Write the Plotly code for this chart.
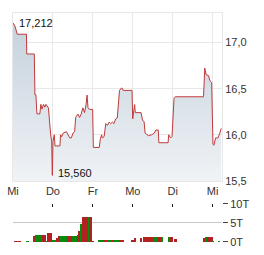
import plotly.graph_objects as go

# price series (x in days since first Wednesday)
price_x = [0.000, 0.049, 0.106, 0.337, 0.345, 0.534, 0.549, 0.574, 0.599, 0.672,
           0.697, 0.727, 0.764, 0.800, 0.825, 0.887, 0.943, 0.968, 0.985, 1.002,
           1.034, 1.052, 1.175, 1.190, 1.219, 1.256, 1.337, 1.379, 1.421, 1.461,
           1.502, 1.544, 1.569, 1.626, 1.667, 1.707, 1.749, 1.791, 1.830, 1.855,
           1.879, 1.914, 1.995, 2.012, 2.160, 2.185, 2.217, 2.241, 2.283, 2.323,
           2.365, 2.406, 2.446, 2.488, 2.530, 2.569, 2.611, 2.667, 2.709, 2.734,
           2.759, 2.980, 2.998, 3.047, 3.062, 3.209, 3.244, 3.283, 3.308, 3.392,
           3.473, 3.539, 3.579, 3.638, 3.653, 3.884, 3.899, 3.948, 3.983, 4.032,
           4.064, 4.771, 4.803, 4.835, 4.894, 4.933, 4.975, 5.007, 5.032, 5.074,
           5.131, 5.180, 5.214]
price_y = [17.212, 17.178, 17.090, 17.090, 16.876, 16.876, 16.433, 16.433, 16.227, 16.227,
           16.330, 16.278, 16.330, 16.299, 16.330, 16.292, 16.000, 15.931, 15.560, 15.931,
           16.000, 15.879, 15.879, 16.000, 15.979, 16.018, 16.034, 16.000, 15.966, 15.966,
           16.018, 16.034, 16.189, 16.224, 16.189, 16.224, 16.292, 16.240, 16.327, 16.430,
           16.292, 16.275, 16.275, 15.863, 15.863, 15.948, 16.000, 15.966, 15.982, 16.121,
           16.103, 16.137, 16.121, 16.137, 16.121, 16.172, 16.182, 16.481, 16.505, 16.505,
           16.481, 16.481, 16.172, 16.327, 16.240, 16.240, 16.155, 16.144, 16.018, 15.990,
           16.000, 16.018, 16.052, 16.052, 15.914, 15.914, 16.000, 15.966, 15.982, 16.395,
           16.412, 16.412, 16.722, 16.653, 16.642, 16.585, 16.567, 15.897, 15.887, 15.966,
           15.966, 16.018, 16.069]

# volume (thousands)
vol_x = [0.049, 0.111, 0.172, 0.357, 0.542, 0.591, 0.653, 0.702, 0.751, 0.800,
         0.837, 0.887, 0.948, 1.010, 1.059, 1.108, 1.158, 1.219, 1.281, 1.330,
         1.379, 1.441, 1.502, 1.564, 1.626, 1.663, 1.712, 1.773, 1.823, 1.872,
         1.909, 1.946, 2.007, 2.167, 2.229, 2.278, 2.340, 2.389, 2.451, 2.512,
         2.574, 2.635, 2.697, 2.759, 2.993, 3.054, 3.202, 3.300, 3.362, 3.424,
         3.485, 3.547, 3.608, 3.670, 3.732, 3.904, 3.966, 4.064, 4.791, 4.840,
         4.901, 4.963, 5.012, 5.160]
vol_y = [0.3, 0.3, 0.3, 0.3, 1.6, 1.9, 1.9, 1.9, 1.9, 1.9,
         0.2, 2.5, 2.5, 0.5, 0.5, 1.0, 1.5, 1.5, 1.5, 1.5,
         1.5, 1.5, 1.5, 1.5, 1.75, 3.0, 4.8, 6.5, 6.5, 6.7,
         6.7, 6.7, 0.3, 0.5, 0.5, 0.5, 0.5, 0.5, 0.5, 0.5,
         0.5, 0.5, 0.5, 0.5, 0.6, 1.0, 1.2, 1.3, 1.3, 1.3,
         1.3, 1.3, 1.3, 1.3, 1.3, 1.3, 1.3, 0.8, 1.0, 1.3,
         1.3, 1.3, 0.3, 0.3]
vol_up = [0, 0, 0, 1, 0, 1, 1, 1, 0, 0,
          1, 0, 0, 1, 1, 0, 0, 1, 1, 1,
          0, 0, 1, 1, 0, 0, 1, 0, 0, 0,
          1, 0, 0, 1, 1, 0, 0, 1, 1, 0,
          1, 1, 0, 0, 0, 0, 0, 0, 0, 0,
          0, 1, 1, 0, 1, 1, 0, 0, 0, 1,
          0, 0, 1, 1]

day_ticks = [0, 1, 2, 3, 4, 5]
day_labels = ["Mi", "Do", "Fr", "Mo", "Di", "Mi"]
price_ticks = [15.5, 16.0, 16.5, 17.0]
vol_ticks = [0, 5, 10]
vol_labels = ["0T", "5T", "10T"]

RED = "#b22222"
GREEN = "#0a8a0a"
FONT = "Liberation Sans, Arial, sans-serif"

fig = go.Figure()
fig.add_trace(go.Scatter(
    x=price_x, y=price_y, mode="lines",
    line=dict(color="#bf3a3c", width=1),
    fill="tozeroy",
    fillgradient=dict(type="vertical", start=15.5, stop=17.25,
                      colorscale=[[0, "rgb(242,244,247)"], [1, "rgb(196,209,220)"]]),
    hoverinfo="skip", xaxis="x", yaxis="y"))

fig.add_trace(go.Bar(
    x=vol_x, y=vol_y, width=0.066,
    marker=dict(color=[GREEN if u else RED for u in vol_up], line=dict(width=0)),
    xaxis="x2", yaxis="y2", hoverinfo="skip"))

imax = price_y.index(max(price_y))
imin = price_y.index(min(price_y))
ann = []
for i, ys in ((imax, 0), (imin, 2)):
    ann.append(dict(x=price_x[i], y=price_y[i], xref="x", yref="y",
                    text=f"{price_y[i]:.3f}".replace(".", ","), showarrow=False,
                    xanchor="left", yanchor="middle", xshift=4, yshift=ys,
                    font=dict(family=FONT, size=11, color="#111")))

xr = [0, 5.234]
fig.update_layout(
    width=264, height=255,
    margin=dict(l=9, r=42, t=7, b=8),
    paper_bgcolor="white", plot_bgcolor="white",
    showlegend=False, bargap=0,
    separators=",.",
    annotations=ann,
    font=dict(family=FONT, size=11, color="#333"),
    xaxis=dict(domain=[0, 1], range=xr, tickvals=day_ticks, ticktext=day_labels,
               showgrid=True, gridcolor="#e8e8e8", zeroline=False,
               showline=True, linecolor="#e8e8e8", mirror=True,
               ticks="", tickfont=dict(size=11, color="#333"), anchor="y"),
    yaxis=dict(domain=[0.2667, 1], range=[15.5, 17.32], side="right",
               tickvals=price_ticks, tickformat=".1f",
               showgrid=True, gridcolor="#e8e8e8", zeroline=False,
               showline=True, linecolor="#e8e8e8", mirror=True,
               ticks="", tickfont=dict(size=11, color="#333"), anchor="x"),
    xaxis2=dict(domain=[0, 1], range=xr, tickvals=day_ticks, showticklabels=False,
                side="top", ticks="inside", ticklen=3, tickcolor="#222",
                showgrid=False, zeroline=False, showline=False, anchor="y2"),
    yaxis2=dict(domain=[0, 0.1667], range=[0, 10], side="right",
                tickvals=vol_ticks, ticktext=vol_labels,
                ticks="outside", ticklen=5, tickcolor="#444",
                showgrid=True, gridcolor="#c8c8c8", zeroline=False,
                showline=False, tickfont=dict(size=11, color="#333"), anchor="x2"),
)

fig.write_html("out.html")
